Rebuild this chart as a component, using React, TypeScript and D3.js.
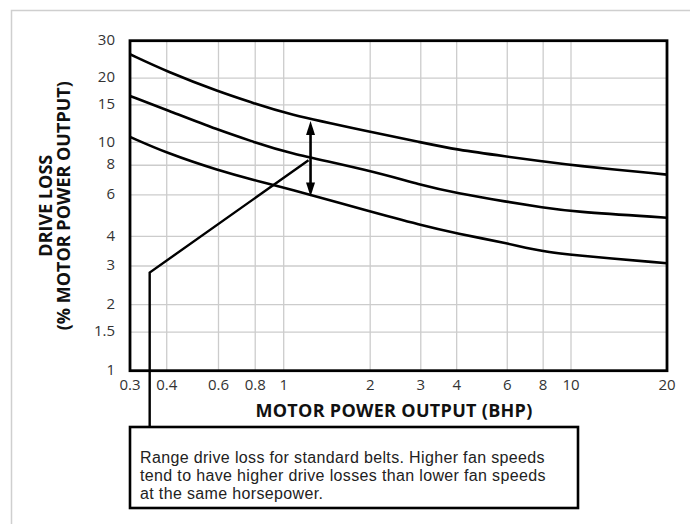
import * as d3 from "d3";

// tick values on the two log axes
const xTicks = [0.3, 0.4, 0.6, 0.8, 1, 2, 3, 4, 6, 8, 10, 20];
const yTicks = [1, 1.5, 2, 3, 4, 6, 8, 10, 15, 20, 30];
const xGrid = [0.4, 0.6, 0.8, 1, 2, 3, 4, 6, 8, 10];
const yGrid = [1.5, 2, 3, 4, 6, 8, 10, 15, 20];

// drive loss curves, % of motor power output
const bhp = [0.3, 0.4, 0.6, 0.8, 1, 2, 3, 4, 6, 8, 10, 20];
const upperLoss = [25.9, 21.5, 17.3, 15.2, 13.7, 11.2, 10.0, 9.3, 8.7, 8.3, 8.0, 7.3];
const middleLoss = [16.5, 14.2, 11.4, 10.0, 9.1, 7.6, 6.6, 6.1, 5.6, 5.3, 5.1, 4.8];
const lowerLoss = [10.6, 9.0, 7.6, 6.9, 6.45, 5.1, 4.47, 4.12, 3.74, 3.45, 3.34, 3.08];

// range arrow and callout leader (data units)
const rangeBhp = 1.24;
const rangeTop = 12.6;
const rangeBottom = 5.9;
const leaderBhp = [1.22, 0.35];
const leaderLoss = [8.4, 2.8];

const noteLines = [
  "Range drive loss for standard belts. Higher fan speeds",
  "tend to have higher drive losses than lower fan speeds",
  "at the same horsepower.",
];

const W = 690;
const H = 524;
const font = "'Open Sans', 'Noto Sans', sans-serif";

export default function App() {
  // the printed grid is not quite logarithmic, so pin a few decades
  const x = d3.scaleLog().domain([0.3, 1, 10, 20]).range([130, 283.7, 571, 667]);
  const y = d3.scaleLog().domain([1, 3, 10, 30]).range([370.7, 266, 142.3, 40.7]);

  const line = d3
    .line<[number, number]>()
    .curve(d3.curveBasis)
    .x((d) => x(d[0]))
    .y((d) => y(d[1]));

  const series = [upperLoss, middleLoss, lowerLoss].map((vals) =>
    vals.map((v, i) => [bhp[i], v] as [number, number])
  );

  const [x0, x1] = [x(0.3), x(20)];
  const [y0, y1] = [y(1), y(30)];

  const ax = x(rangeBhp);
  const aTop = y(rangeTop);
  const aBot = y(rangeBottom);
  const head = 14;
  const hw = 4.5;

  const box = { x: 130, y: 427, w: 448, h: 81 };
  const leaderPts = leaderBhp.map((b, i) => [x(b), y(leaderLoss[i])]);
  const leaderPath =
    `M${leaderPts[0][0]},${leaderPts[0][1]}` +
    `L${leaderPts[1][0]},${leaderPts[1][1]}` +
    `L${leaderPts[1][0]},${box.y}`;

  return (
    <svg
      width={W}
      height={H}
      style={{ position: "absolute", left: 0, top: 0, background: "#fff" }}
      fontFamily={font}
    >
      <rect x={11.5} y={10.5} width={720} height={560} fill="none" stroke="#cfcfcf" strokeWidth={1.5} />

      {/* grid */}
      {xGrid.map((t) => (
        <line key={"gx" + t} x1={x(t)} x2={x(t)} y1={y0} y2={y1} stroke="#cccccc" strokeWidth={1.3} />
      ))}
      {yGrid.map((t) => (
        <line key={"gy" + t} x1={x0} x2={x1} y1={y(t)} y2={y(t)} stroke="#cccccc" strokeWidth={1.3} />
      ))}

      {/* curves */}
      {series.map((s, i) => (
        <path key={i} d={line(s)!} fill="none" stroke="#000" strokeWidth={2.6} />
      ))}

      {/* leader to callout */}
      <path d={leaderPath} fill="none" stroke="#000" strokeWidth={2.4} strokeLinejoin="miter" />

      {/* range arrow */}
      <line x1={ax} x2={ax} y1={aTop + head - 2} y2={aBot - head + 2} stroke="#000" strokeWidth={2.6} />
      <path d={`M${ax},${aTop}L${ax - hw},${aTop + head}L${ax + hw},${aTop + head}Z`} fill="#000" />
      <path d={`M${ax},${aBot}L${ax - hw},${aBot - head}L${ax + hw},${aBot - head}Z`} fill="#000" />

      {/* plot frame */}
      <rect x={x0} y={y1} width={x1 - x0} height={y0 - y1} fill="none" stroke="#000" strokeWidth={2.8} />

      {/* tick labels */}
      {yTicks.map((t) => (
        <text key={"ty" + t} x={115} y={y(t) - 1} dy="0.35em" textAnchor="end" fontSize={15} fill="#333">
          {t}
        </text>
      ))}
      {xTicks.map((t) => (
        <text key={"tx" + t} x={x(t)} y={385} dy="0.35em" textAnchor="middle" fontSize={15} fill="#333">
          {t}
        </text>
      ))}

      {/* axis titles */}
      <text x={394} y={417} textAnchor="middle" fontSize={18} fontWeight="bold" fill="#111" letterSpacing={0.3}>
        MOTOR POWER OUTPUT (BHP)
      </text>
      <g transform={`translate(0,${(y0 + y1) / 2}) rotate(-90)`}>
        <text x={0} y={51.5} textAnchor="middle" fontSize={18} fontWeight="bold" fill="#111">
          DRIVE LOSS
        </text>
        <text x={0} y={70} textAnchor="middle" fontSize={18} fontWeight="bold" fill="#111">
          (% MOTOR POWER OUTPUT)
        </text>
      </g>

      {/* callout box */}
      <rect x={box.x} y={box.y} width={box.w} height={box.h} fill="#fff" stroke="#000" strokeWidth={2.6} />
      {noteLines.map((s, i) => (
        <text
          key={i}
          x={140}
          y={462.5 + i * 18}
          fontSize={16}
          letterSpacing={0.35}
          fontFamily="'Liberation Sans', Arial, sans-serif"
          fill="#222"
        >
          {s}
        </text>
      ))}
    </svg>
  );
}
